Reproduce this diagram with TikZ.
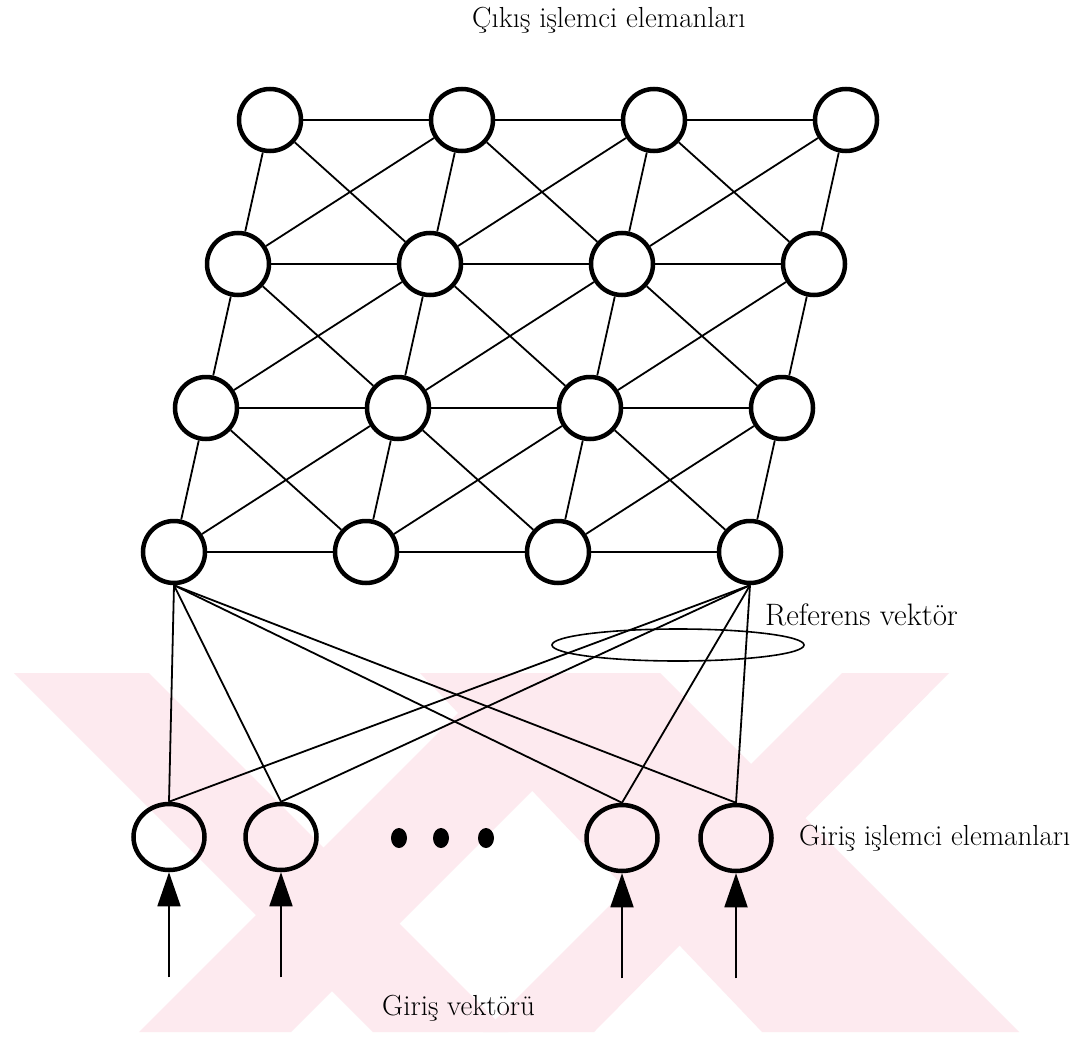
\documentclass[tikz,border=0pt]{standalone}
\usepackage{fontspec}
\setmainfont{Latin Modern Roman}
\usetikzlibrary{arrows.meta,shapes.geometric,calc}
\definecolor{wmark}{RGB}{253,234,239}
\begin{document}
\begin{tikzpicture}[x=1pt,y=-1pt,
  unit/.style={circle,draw,line width=4.5pt,minimum size=62pt,inner sep=0pt},
  inunit/.style={ellipse,draw,line width=4.5pt,minimum width=71pt,minimum height=66pt,inner sep=0pt},
  link/.style={line width=1.8pt},
  dotmark/.style={ellipse,fill,minimum width=16pt,minimum height=20pt,inner sep=0pt},
  lbl/.style={font=\fontsize{29}{32}\selectfont,inner sep=0pt,anchor=base west},
  feed/.style={line width=1.8pt,-{Triangle[length=34pt,width=23pt]}}]
\useasboundingbox (0,0) rectangle (1081,1038);
\fill[white] (0,0) rectangle (1081,1038);
% background stripes
\begin{scope}
\clip (0,673) rectangle (1081,1032);
\fill[wmark] (14,673) -- (149,673) -- (508,1032) -- (373,1032) -- cycle;
\fill[wmark] (139,1032) -- (291,1032) -- (650,673) -- (498,673) -- cycle;
\fill[wmark] (420,673) -- (660,673) -- (1019,1032) -- (762,1032) -- cycle;
\fill[wmark] (483,1032) -- (594,1032) -- (949,673) -- (842,673) -- cycle;
\end{scope}
% output layer grid
\foreach \r in {0,...,3}
  \foreach \c in {0,...,3}
    \node[unit] (n\r\c) at ({270+192*\c-32*\r},{120+144*\r}) {};
% horizontal links
\foreach \r in {0,...,3}
  \foreach \c in {0,1,2} {
    \pgfmathtruncatemacro{\nc}{\c+1}
    \draw[link] (n\r\c) -- (n\r\nc);
  }
% links to the row below
\foreach \r in {0,1,2}
  \foreach \c in {0,...,3} {
    \pgfmathtruncatemacro{\nr}{\r+1}
    \draw[link] (n\r\c) -- (n\nr\c);
  }
% crossing diagonals in every cell
\foreach \r in {0,1,2}
  \foreach \c in {0,1,2} {
    \pgfmathtruncatemacro{\nr}{\r+1}
    \pgfmathtruncatemacro{\nc}{\c+1}
    \draw[link] (n\r\c) -- (n\nr\nc);
    \draw[link] (n\r\nc) -- (n\nr\c);
  }
% input layer
\node[inunit] (i1) at (169,837) {};
\node[inunit] (i2) at (281,837) {};
\node[inunit] (i3) at (622,838) {};
\node[inunit] (i4) at (736,838) {};
\node[dotmark] (d1) at (399,838) {};
\node[dotmark] (d2) at (441,838) {};
\node[dotmark] (d3) at (486,838) {};
\foreach \i in {1,...,4} {
  \draw[link] (i\i.north) -- (n30.south);
  \draw[link] (i\i.north) -- (n33.south);
}
% input signals
\foreach \i in {1,...,4}
  \coordinate (s\i) at ($(i\i.south)+(0,105)$);
\foreach \i in {1,...,4}
  \draw[feed] (s\i) -- (i\i.south);
% reference vector marker
\draw[line width=1.6pt] (678,645) ellipse [x radius=126,y radius=16];
% labels
\node[lbl] (tout) at (472,28) {Çıkış işlemci elemanları};
\node[lbl,font=\fontsize{31}{34}\selectfont] (tref) at (765,625) {Referens vektör};
\node[lbl] (tin) at (799,845) {Giriş işlemci elemanları};
\node[lbl] (tvec) at (382,1015) {Giriş vektörü};
\end{tikzpicture}
\end{document}
